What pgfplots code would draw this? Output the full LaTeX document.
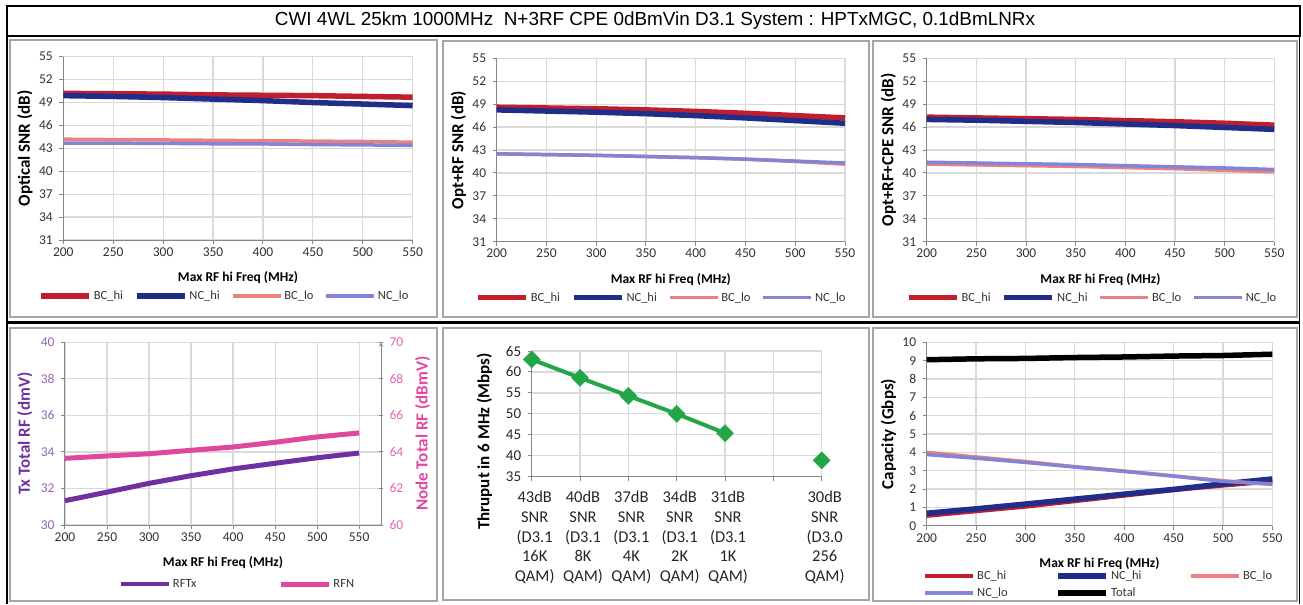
\documentclass[border=0pt]{standalone}
\usepackage{fontspec}
\setmainfont{Carlito}
\newfontfamily\titlefont{Liberation Sans}
\usepackage{pgfplots}
\pgfplotsset{compat=1.18}

\definecolor{bchi}{RGB}{192,30,45}
\definecolor{nchi}{RGB}{32,46,138}
\definecolor{bclo}{RGB}{236,128,128}
\definecolor{nclo}{RGB}{132,132,214}
\definecolor{rftx}{RGB}{112,48,160}
\definecolor{rfn}{RGB}{224,72,160}
\definecolor{thru}{RGB}{34,166,70}
\definecolor{gridc}{RGB}{217,217,217}
\definecolor{axc}{RGB}{134,134,134}
\definecolor{framec}{RGB}{165,165,165}
\definecolor{tickc}{RGB}{50,50,50}

\pgfplotsset{
  excel/.style={
    scale only axis, anchor=south west, clip=false,
    axis x line=bottom, axis y line=left,
    axis line style={axc, line width=1pt, -},
    tick align=outside, major tick length=4pt,
    tick style={axc, line width=1pt},
    grid=major, major grid style={gridc, line width=1.2pt},
    tick label style={font=\fontsize{13.5}{15}\selectfont, text=tickc},
    yticklabel style={xshift=-3pt},
    xlabel style={font=\fontsize{13.5}{16}\selectfont\bfseries},
    ylabel style={font=\fontsize{17}{19}\selectfont\bfseries},
    /pgf/number format/assume math mode=true,
    legend style={draw=none, fill=none, anchor=center,
      font=\fontsize{12.5}{14}\selectfont, text=tickc},
    legend cell align=left,
    legend image code/.code={\draw[##1] (0pt,0pt) -- (48pt,0pt);},
    every axis plot/.append style={line join=round},
  },
  snr/.style={excel,
    xmin=200, xmax=550, xtick={200,250,...,550},
    ymin=31, ymax=55, ytick={31,34,...,55},
    xlabel={Max RF hi Freq (MHz)},
    legend columns=4,
    legend style={/tikz/every even column/.append style={column sep=9pt}},
  },
}

\begin{document}
\begin{tikzpicture}
\path (0pt,0pt) rectangle (1303pt,-604pt);
% frames
\draw[line width=1.6pt] (7pt,-6pt) rectangle (1300pt,-36pt);
\draw[line width=1.6pt] (7pt,-36pt) -- (7pt,-604pt);
\draw[line width=1.6pt] (1299.5pt,-36pt) -- (1299.5pt,-604pt);
\draw[line width=2.5pt] (7pt,-322.5pt) -- (1299.5pt,-322.5pt);
\node[font=\titlefont\fontsize{18.9}{22}\selectfont] at (655pt,-21pt)
  {CWI 4WL 25km 1000MHz~~N+3RF CPE 0dBmVin D3.1 System : HPTxMGC, 0.1dBmLNRx};
\begin{scope}[framec, line width=1.5pt]
\draw (10pt,-40pt) rectangle (437pt,-317pt);
\draw (443pt,-41pt) rectangle (869pt,-317pt);
\draw (873pt,-41pt) rectangle (1297pt,-317pt);
\draw (10pt,-328pt) rectangle (437pt,-601pt);
\draw (443pt,-328pt) rectangle (869pt,-600pt);
\draw (873pt,-328pt) rectangle (1297pt,-601pt);
\end{scope}

% panel 1: optical SNR
\begin{axis}[snr, at={(63.3pt,-240pt)}, width=349.4pt, height=183.3pt,
  ylabel={Optical SNR (dB)},
  xlabel style={at={(axis description cs:0.5,-0.207)}, anchor=center},
  ylabel style={at={(axis description cs:-0.11,0.5)}, anchor=center},
  legend style={at={(0.461,-0.3055)}}]
\addplot[bchi, line width=5.5pt] coordinates {(200,50.2)(250,50.15)(300,50.1)(350,50.0)(400,49.95)(450,49.9)(500,49.8)(550,49.7)};
\addlegendentry{BC\_hi}
\addplot[nchi, line width=5.5pt] coordinates {(200,49.9)(250,49.8)(300,49.65)(350,49.45)(400,49.25)(450,49.0)(500,48.8)(550,48.6)};
\addlegendentry{NC\_hi}
\addplot[bclo, line width=3.5pt] coordinates {(200,44.2)(250,44.15)(300,44.1)(350,44.05)(400,44.0)(450,43.95)(500,43.9)(550,43.8)};
\addlegendentry{BC\_lo}
\addplot[nclo, line width=3.5pt] coordinates {(200,43.7)(250,43.68)(300,43.65)(350,43.6)(400,43.58)(450,43.5)(500,43.45)(550,43.4)};
\addlegendentry{NC\_lo}
\end{axis}

% panel 2: opt+RF SNR
\begin{axis}[snr, at={(496.7pt,-241.7pt)}, width=348.3pt, height=183.4pt,
  ylabel={Opt+RF SNR (dB)},
  xlabel style={at={(axis description cs:0.5,-0.205)}, anchor=center},
  ylabel style={at={(axis description cs:-0.11,0.5)}, anchor=center},
  legend style={at={(0.473,-0.305)}}]
\addplot[bchi, line width=5.5pt] coordinates {(200,48.6)(250,48.5)(300,48.4)(350,48.25)(400,48.05)(450,47.8)(500,47.5)(550,47.2)};
\addlegendentry{BC\_hi}
\addplot[nchi, line width=5.5pt] coordinates {(200,48.25)(250,48.1)(300,47.95)(350,47.75)(400,47.5)(450,47.2)(500,46.85)(550,46.5)};
\addlegendentry{NC\_hi}
\addplot[bclo, line width=3.5pt] coordinates {(200,42.5)(250,42.4)(300,42.3)(350,42.15)(400,42.0)(450,41.8)(500,41.5)(550,41.15)};
\addlegendentry{BC\_lo}
\addplot[nclo, line width=3.5pt] coordinates {(200,42.5)(250,42.4)(300,42.3)(350,42.15)(400,42.0)(450,41.8)(500,41.55)(550,41.3)};
\addlegendentry{NC\_lo}
\end{axis}

% panel 3: opt+RF+CPE SNR
\begin{axis}[snr, at={(926.7pt,-241.7pt)}, width=347.6pt, height=183.4pt,
  ylabel={Opt+RF+CPE SNR (dB)},
  xlabel style={at={(axis description cs:0.5,-0.205)}, anchor=center},
  ylabel style={at={(axis description cs:-0.11,0.5)}, anchor=center},
  legend style={at={(0.476,-0.305)}}]
\addplot[bchi, line width=5.5pt] coordinates {(200,47.3)(250,47.2)(300,47.1)(350,47.0)(400,46.85)(450,46.7)(500,46.5)(550,46.25)};
\addlegendentry{BC\_hi}
\addplot[nchi, line width=5.5pt] coordinates {(200,47.0)(250,46.9)(300,46.75)(350,46.6)(400,46.4)(450,46.2)(500,45.95)(550,45.7)};
\addlegendentry{NC\_hi}
\addplot[bclo, line width=3.5pt] coordinates {(200,41.15)(250,41.05)(300,40.95)(350,40.85)(400,40.7)(450,40.55)(500,40.35)(550,40.15)};
\addlegendentry{BC\_lo}
\addplot[nclo, line width=3.5pt] coordinates {(200,41.4)(250,41.3)(300,41.2)(350,41.1)(400,40.95)(450,40.8)(500,40.65)(550,40.45)};
\addlegendentry{NC\_lo}
\end{axis}

% panel 4: total RF, two y axes
\begin{axis}[excel, at={(65pt,-525pt)}, width=316pt, height=182.7pt,
  xmin=200, xmax=576, xtick={200,250,...,550},
  ymin=30, ymax=40, ytick={30,32,...,40},
  yticklabel style={text=rftx!75},
  xlabel={Max RF hi Freq (MHz)}, ylabel={Tx Total RF (dmV)},
  xlabel style={at={(axis description cs:0.5,-0.208)}, anchor=center},
  ylabel style={at={(axis description cs:-0.127,0.5)}, anchor=center, text=rftx}]
\addplot[rftx, line width=5pt] coordinates {(200,31.33)(250,31.8)(300,32.28)(350,32.7)(400,33.07)(450,33.38)(500,33.68)(550,33.94)};
\end{axis}
\begin{axis}[excel, at={(65pt,-525pt)}, width=316pt, height=182.7pt,
  axis x line=none, axis y line=right, grid=none,
  xmin=200, xmax=576,
  ymin=60, ymax=70, ytick={60,62,...,70},
  yticklabel style={text=rfn!85, xshift=6pt},
  ylabel={Node Total RF (dBmV)},
  every axis y label/.style={at={(axis description cs:1.132,0.5)}, rotate=90, anchor=center,
    text=rfn, font=\fontsize{17}{19}\selectfont\bfseries},
  legend columns=2,
  legend style={at={(0.546,-0.323)}, /tikz/every even column/.append style={column sep=80pt}}]
\addlegendimage{rftx, line width=4pt}
\addlegendentry{RFTx}
\addplot[rfn, line width=5pt] coordinates {(200,63.65)(250,63.78)(300,63.9)(350,64.09)(400,64.27)(450,64.53)(500,64.82)(550,65.04)};
\addlegendentry{RFN}
\end{axis}

% panel 5: thruput per SNR
\begin{axis}[excel, at={(531.7pt,-476.7pt)}, width=290pt, height=125.7pt,
  xmin=0, xmax=6, xtick={0,...,6},
  xticklabels={{43dB\\SNR\\(D3.1\\16K\\QAM)},{40dB\\SNR\\(D3.1\\8K\\QAM)},{37dB\\SNR\\(D3.1\\4K\\QAM)},{34dB\\SNR\\(D3.1\\2K\\QAM)},{31dB\\SNR\\(D3.1\\1K\\QAM)},{},{30dB\\SNR\\(D3.0\\256\\QAM)}},
  xticklabel style={align=center, font=\fontsize{16.5}{19.7}\selectfont, text=black!85, xshift=3pt, yshift=-7pt},
  ymin=35, ymax=65, ytick={35,40,...,65},
  yticklabel style={font=\fontsize{15}{17}\selectfont, text=black!85},
  ylabel={Thruput in 6 MHz (Mbps)},
  ylabel style={at={(axis description cs:-0.163,0.28)}, anchor=center}]
\addplot[thru, line width=4pt, mark=square*, mark size=6pt, mark options={solid, rotate=45, line width=0.5pt}] coordinates {(0,63.0)(1,58.6)(2,54.3)(3,50.0)(4,45.4)};
\addplot[thru, only marks, mark=square*, mark size=6pt, mark options={rotate=45, line width=0.5pt}] coordinates {(6,38.9)};
\end{axis}

% panel 6: capacity
\begin{axis}[excel, at={(926.7pt,-525.7pt)}, width=345.6pt, height=183.4pt,
  xmin=200, xmax=550, xtick={200,250,...,550},
  ymin=0, ymax=10, ytick={0,1,...,10},
  xlabel={Max RF hi Freq (MHz)}, ylabel={Capacity (Gbps)},
  xlabel style={at={(axis description cs:0.5,-0.205)}, anchor=center},
  ylabel style={at={(axis description cs:-0.111,0.5)}, anchor=center},
  legend columns=3,
  legend style={at={(0.497,-0.3206)}, /tikz/every even column/.append style={column sep=46pt}, /tikz/row sep=2.5pt}]
\addplot[bchi, line width=4.5pt] coordinates {(200,0.55)(250,0.8)(300,1.05)(350,1.35)(400,1.65)(450,1.95)(500,2.2)(550,2.42)};
\addlegendentry{BC\_hi}
\addplot[nchi, line width=5.5pt] coordinates {(200,0.68)(250,0.92)(300,1.18)(350,1.45)(400,1.72)(450,1.98)(500,2.28)(550,2.55)};
\addlegendentry{NC\_hi}
\addplot[bclo, line width=3.5pt] coordinates {(200,4.0)(250,3.75)(300,3.5)(350,3.22)(400,2.98)(450,2.72)(500,2.45)(550,2.25)};
\addlegendentry{BC\_lo}
\addplot[nclo, line width=3.5pt] coordinates {(200,3.88)(250,3.68)(300,3.45)(350,3.2)(400,2.96)(450,2.7)(500,2.42)(550,2.28)};
\addlegendentry{NC\_lo}
\addplot[black, line width=5.5pt] coordinates {(200,9.05)(250,9.1)(300,9.12)(350,9.17)(400,9.2)(450,9.25)(500,9.28)(550,9.35)};
\addlegendentry{Total}
\end{axis}
\end{tikzpicture}
\end{document}
